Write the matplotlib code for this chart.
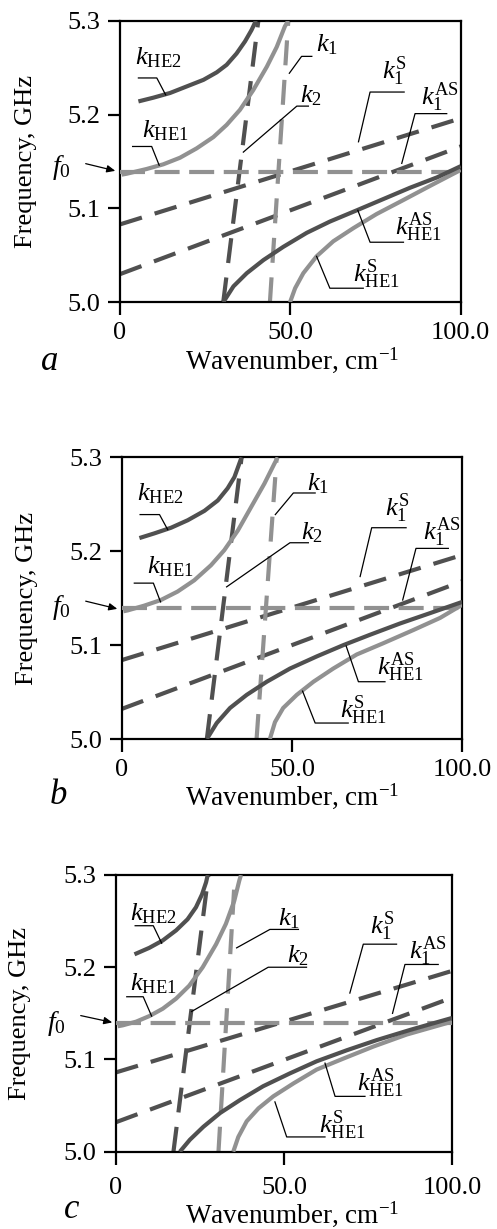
import matplotlib
matplotlib.use('Agg')
import matplotlib.pyplot as plt
import matplotlib.patches as mpatches

plt.rcParams['font.family'] = ['Liberation Serif', 'DejaVu Serif']
plt.rcParams['mathtext.fontset'] = 'custom'
plt.rcParams['mathtext.rm'] = 'Liberation Serif'
plt.rcParams['mathtext.it'] = 'Liberation Serif:italic'
plt.rcParams['mathtext.bf'] = 'Liberation Serif:bold'

# ---------------- data ----------------
x_ticks = [0, 50, 100]
x_tick_labels = ['0', '50.0', '100.0']
y_ticks = [5.0, 5.1, 5.2, 5.3]
y_tick_labels = ['5.0', '5.1', '5.2', '5.3']
panel_letters = ['a', 'b', 'c']
f0_values = [5.139, 5.139, 5.140]

line_x = [0, 100]
vert_y = [5.0, 5.3]

# panel a
he2_x_a = [5.4, 9.8, 14.7, 19.6, 24.5, 28.4, 31.3, 34.2, 36.7, 38.6, 39.9]
he2_y_a = [5.214, 5.218, 5.223, 5.230, 5.237, 5.245, 5.253, 5.265, 5.278, 5.290, 5.300]
he1_x_a = [0.5, 2.0, 7.8, 12.7, 17.6, 22.5, 27.4, 31.3, 35.2, 39.1, 43.1, 46.0, 48.4, 49.4]
he1_y_a = [5.136, 5.137, 5.142, 5.147, 5.154, 5.164, 5.176, 5.189, 5.205, 5.226, 5.251, 5.272, 5.294, 5.300]
k1_x_a = [44.0, 49.4]
k2_x_a = [30.3, 40.6]
k1s_y_a = [5.083, 5.196]
k1as_y_a = [5.030, 5.166]
he1as_x_a = [30.3, 33.3, 37.2, 42.1, 47.9, 54.8, 61.6, 69.5, 77.3, 85.1, 93.0, 100.0]
he1as_y_a = [5.000, 5.017, 5.031, 5.045, 5.059, 5.074, 5.086, 5.098, 5.110, 5.122, 5.133, 5.145]
he1s_x_a = [49.9, 51.4, 53.8, 57.7, 62.6, 68.5, 75.3, 83.2, 91.0, 100.0]
he1s_y_a = [5.000, 5.015, 5.031, 5.049, 5.065, 5.079, 5.094, 5.109, 5.124, 5.141]

# panel b
he2_x_b = [5.2, 9.6, 14.5, 19.4, 24.3, 28.2, 31.1, 33.1, 34.5, 35.2]
he2_y_b = [5.214, 5.219, 5.225, 5.233, 5.243, 5.254, 5.267, 5.279, 5.293, 5.300]
he1_x_b = [0.5, 1.8, 6.6, 11.5, 16.4, 21.3, 26.2, 30.1, 34.1, 38.0, 41.9, 44.8, 45.8]
he1_y_b = [5.136, 5.137, 5.142, 5.148, 5.157, 5.169, 5.185, 5.201, 5.222, 5.247, 5.272, 5.293, 5.300]
k1_x_b = [39.6, 45.5]
k2_x_b = [25.0, 35.2]
k1s_y_b = [5.084, 5.196]
k1as_y_b = [5.032, 5.168]
he1as_x_b = [25.0, 27.9, 31.8, 36.7, 42.6, 49.4, 57.3, 65.1, 72.9, 81.7, 90.5, 100.0]
he1as_y_b = [5.000, 5.017, 5.033, 5.047, 5.061, 5.075, 5.088, 5.100, 5.111, 5.123, 5.134, 5.146]
he1s_x_b = [43.5, 45.0, 47.4, 51.4, 56.3, 62.1, 69.0, 76.8, 85.6, 93.5, 100.0]
he1s_y_b = [5.000, 5.018, 5.033, 5.047, 5.061, 5.075, 5.090, 5.102, 5.116, 5.129, 5.143]

# panel c
he2_x_c = [5.5, 9.9, 13.9, 17.9, 21.3, 23.8, 25.6, 26.8, 27.3]
he2_y_c = [5.214, 5.221, 5.229, 5.240, 5.252, 5.265, 5.279, 5.292, 5.300]
he1_x_c = [0.5, 2.0, 6.0, 9.9, 13.9, 17.9, 21.8, 25.8, 29.8, 32.7, 35.2, 36.7, 37.2]
he1_y_c = [5.136, 5.137, 5.141, 5.147, 5.155, 5.166, 5.180, 5.200, 5.225, 5.247, 5.272, 5.294, 5.300]
k1_x_c = [30.5, 35.4]
k2_x_c = [17.1, 27.5]
k1s_y_c = [5.086, 5.196]
k1as_y_c = [5.032, 5.167]
he1as_x_c = [19.0, 22.0, 26.0, 31.0, 36.9, 43.8, 51.8, 59.7, 68.7, 77.6, 87.5, 100.0]
he1as_y_c = [5.000, 5.013, 5.027, 5.042, 5.056, 5.071, 5.085, 5.098, 5.110, 5.121, 5.132, 5.145]
he1s_x_c = [34.9, 36.4, 38.9, 42.4, 46.8, 52.8, 59.7, 67.7, 76.6, 86.5, 100.0]
he1s_y_c = [5.000, 5.016, 5.033, 5.047, 5.060, 5.074, 5.089, 5.101, 5.114, 5.127, 5.141]

label_texts = {
    'he2': r'$k_{\mathrm{HE2}}$',
    'he1': r'$k_{\mathrm{HE1}}$',
    'k1': r'$k_1$',
    'k2': r'$k_2$',
    'k1s': r'$k_1^{\mathrm{S}}$',
    'k1as': r'$k_1^{\mathrm{AS}}$',
    'he1as': r'$k_{\mathrm{HE1}}^{\mathrm{AS}}$',
    'he1s': r'$k_{\mathrm{HE1}}^{\mathrm{S}}$',
}

panels = [
    dict(he2=(he2_x_a, he2_y_a), he1=(he1_x_a, he1_y_a), k1=k1_x_a, k2=k2_x_a,
         k1s=k1s_y_a, k1as=k1as_y_a, he1as=(he1as_x_a, he1as_y_a), he1s=(he1s_x_a, he1s_y_a)),
    dict(he2=(he2_x_b, he2_y_b), he1=(he1_x_b, he1_y_b), k1=k1_x_b, k2=k2_x_b,
         k1s=k1s_y_b, k1as=k1as_y_b, he1as=(he1as_x_b, he1as_y_b), he1s=(he1s_x_b, he1s_y_b)),
    dict(he2=(he2_x_c, he2_y_c), he1=(he1_x_c, he1_y_c), k1=k1_x_c, k2=k2_x_c,
         k1s=k1s_y_c, k1as=k1as_y_c, he1as=(he1as_x_c, he1as_y_c), he1s=(he1s_x_c, he1s_y_c)),
]

# ---------------- layout ----------------
W, H = 497, 1229
# axes boxes in pixels: left, top, right, bottom
boxes = [(120, 20.7, 460.7, 302.3), (121.7, 457.3, 462.3, 739.0), (116, 875.0, 452, 1151.7)]

label_pos = [
    dict(he2=(4.4, 5.253), he1=(6.4, 5.176), k1=(57.4, 5.267), k2=(52.8, 5.213),
         k1s=(76.8, 5.238), k1as=(88.3, 5.210), he1as=(80.7, 5.072), he1s=(68.5, 5.022)),
    dict(he2=(4.4, 5.254), he1=(7.3, 5.176), k1=(54.3, 5.265), k2=(52.5, 5.213),
         k1s=(77.3, 5.238), k1as=(88.6, 5.212), he1as=(74.9, 5.068), he1s=(64.1, 5.022)),
    dict(he2=(4.2, 5.251), he1=(4.2, 5.175), k1=(48.3, 5.245), k2=(50.8, 5.205),
         k1s=(75.6, 5.236), k1as=(87.3, 5.209), he1as=(71.6, 5.066), he1s=(60.5, 5.020)),
]
leaders = [
    dict(he2=[(5.4, 5.239), (10.8, 5.239), (13.4, 5.221)],
         he1=[(3.7, 5.166), (9.3, 5.166), (11.5, 5.146)],
         k1=[(49.7, 5.244), (53.3, 5.262), (56.3, 5.262)],
         k2=[(36.2, 5.160), (51.9, 5.209), (55.3, 5.209)],
         k1s=[(70.0, 5.171), (73.4, 5.224), (83.4, 5.224)],
         k1as=[(82.7, 5.148), (86.6, 5.201), (95.9, 5.201)],
         he1as=[(69.8, 5.098), (73.4, 5.064), (83.2, 5.064)],
         he1s=[(57.7, 5.049), (61.6, 5.015), (71.4, 5.015)]),
    dict(he2=[(5.4, 5.239), (11.1, 5.239), (13.5, 5.223)],
         he1=[(3.7, 5.166), (9.3, 5.166), (11.4, 5.146)],
         k1=[(45.1, 5.239), (50.4, 5.262), (56.8, 5.262)],
         k2=[(30.8, 5.162), (49.4, 5.209), (54.8, 5.209)],
         k1s=[(70.0, 5.173), (73.4, 5.225), (83.5, 5.225)],
         k1as=[(82.5, 5.148), (86.4, 5.203), (95.9, 5.203)],
         he1as=[(65.9, 5.099), (69.5, 5.061), (77.3, 5.061)],
         he1s=[(53.1, 5.051), (56.8, 5.017), (66.5, 5.017)]),
    dict(he2=[(5.7, 5.245), (11.1, 5.245), (13.6, 5.226)],
         he1=[(3.2, 5.168), (8.1, 5.168), (10.6, 5.147)],
         k1=[(35.9, 5.221), (45.8, 5.241), (54.3, 5.241)],
         k2=[(22.5, 5.152), (45.3, 5.200), (56.7, 5.200)],
         k1s=[(69.6, 5.172), (73.6, 5.225), (83.5, 5.225)],
         k1as=[(82.3, 5.150), (86.0, 5.203), (95.9, 5.203)],
         he1as=[(62.2, 5.096), (65.2, 5.060), (74.1, 5.060)],
         he1s=[(47.3, 5.054), (50.8, 5.016), (62.2, 5.016)]),
]
# f0 text centre and arrow (pixels)
f0_text_px = [(61, 168), (61, 607), (56, 1023)]
f0_arrow_px = [((83, 163), (118, 171.5)), ((83, 600.5), (120, 609.5)), ((78, 1015), (115, 1023))]
letter_px = [(50, 362), (58, 796), (72, 1209)]
xlabel_cy = [360, 796, 1214]
ylabel_cx = [26, 27, 20]
xtick_pad = [5.5, 5.2, 9.5]

DARK = '#505050'
LIGHT = '#919191'
LW = 3.0

fig = plt.figure(figsize=(W / 100, H / 100), dpi=100)


def fx(px):
    return px / W


def fy(py):
    return 1 - py / H


for i, (box, p) in enumerate(zip(boxes, panels)):
    l, t, r, b = box
    ax = fig.add_axes([fx(l), fy(b), (r - l) / W, (b - t) / H])
    ax.set_xlim(0, 100)
    ax.set_ylim(5.0, 5.3)

    # horizontal f0 line
    ax.plot(line_x, [f0_values[i], f0_values[i]], color=LIGHT, lw=LW,
            dashes=(6, 2.3), zorder=3)
    # sloped dashed k1^S, k1^AS
    ax.plot(line_x, p['k1s'], color=DARK, lw=LW, dashes=(5.5, 3.2), zorder=2)
    ax.plot(line_x, p['k1as'], color=DARK, lw=LW, dashes=(5.5, 3.2), zorder=2)
    # near vertical k1, k2
    ax.plot(p['k2'], vert_y, color=DARK, lw=LW, dashes=(6, 3.5), zorder=2)
    ax.plot(p['k1'], vert_y, color=LIGHT, lw=LW, dashes=(6, 3.5), zorder=2)
    # solid hybrid-mode curves
    ax.plot(*p['he2'], color=DARK, lw=LW, solid_capstyle='butt', solid_joinstyle='round', zorder=4)
    ax.plot(*p['he1'], color=LIGHT, lw=LW, solid_capstyle='butt', solid_joinstyle='round', zorder=4)
    ax.plot(*p['he1s'], color=LIGHT, lw=LW, solid_capstyle='butt', solid_joinstyle='round', zorder=4)
    ax.plot(*p['he1as'], color=DARK, lw=LW, solid_capstyle='butt', solid_joinstyle='round', zorder=5)

    # labels and leaders
    for key, txt in label_texts.items():
        lx, ly = label_pos[i][key]
        ax.text(lx, ly, txt, fontsize=19, ha='left', va='baseline', zorder=6)
        pts = leaders[i][key]
        ax.plot([q[0] for q in pts], [q[1] for q in pts], color='black', lw=0.9, zorder=6)

    ax.set_xticks(x_ticks)
    ax.set_xticklabels(x_tick_labels)
    ax.set_yticks(y_ticks)
    ax.set_yticklabels(y_tick_labels)
    ax.tick_params(direction='out', length=9, width=1.6, labelsize=19, pad=5)
    ax.tick_params(axis='x', pad=xtick_pad[i])
    for s in ax.spines.values():
        s.set_linewidth(1.6)

    ax.set_xlabel('Wavenumber, cm$^{\\mathregular{-1}}$', fontsize=19.5)
    ax.xaxis.set_label_coords(0.5 + (292 - (l + r) / 2) / (r - l), (b - xlabel_cy[i]) / (b - t))
    ax.xaxis.label.set_va('center')
    ax.set_ylabel('Frequency, GHz', fontsize=19)
    ax.yaxis.set_label_coords((ylabel_cx[i] - l) / (r - l), 0.5)
    ax.yaxis.label.set_va('center')

    # f0 annotation
    tx, ty = f0_text_px[i]
    fig.text(fx(tx), fy(ty), r'$f_0$', fontsize=20, ha='center', va='center')
    (ax0, ay0), (ax1, ay1) = f0_arrow_px[i]
    fig.add_artist(mpatches.FancyArrowPatch(
        (fx(ax0), fy(ay0)), (fx(ax1), fy(ay1)), transform=fig.transFigure,
        arrowstyle='-|>,head_length=5,head_width=2.2', color='black', lw=0.9))

    # panel letter
    lxp, lyp = letter_px[i]
    fig.text(fx(lxp), fy(lyp), panel_letters[i], fontsize=25, style='italic',
             ha='center', va='center')

fig.savefig('out.png', dpi=100)
